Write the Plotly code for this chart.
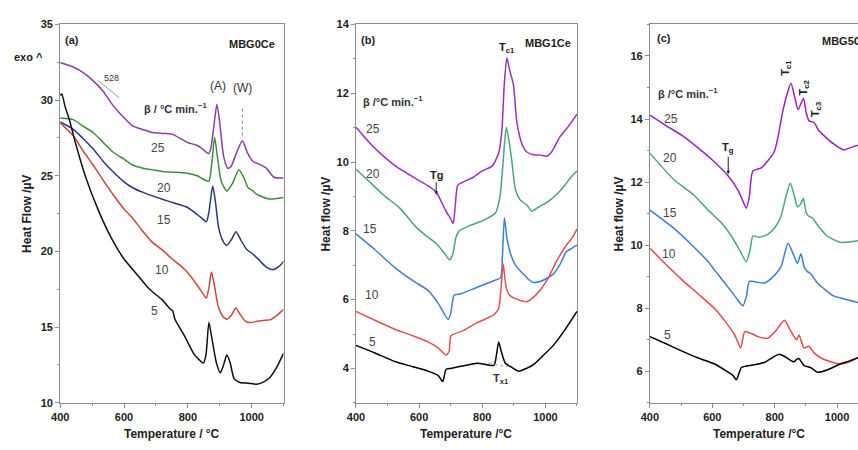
import plotly.graph_objects as go

# ---------------- (a) MBG0Ce ----------------
a25_T = [400, 440, 480, 513, 534, 560, 586, 627, 660, 689, 720, 751, 798, 830, 850, 865, 872, 880, 891, 900, 912, 925, 935, 947, 958, 971, 985, 1005, 1025, 1046, 1070, 1100]
a25_y = [32.47, 32.2, 31.7, 31.07, 30.6, 29.8, 29.14, 28.3, 28.05, 27.86, 27.8, 27.75, 27.21, 27.0, 26.7, 26.46, 26.8, 28.0, 29.72, 28.5, 26.3, 25.5, 25.6, 26.2, 26.8, 27.32, 26.6, 25.93, 25.75, 25.5, 24.9, 24.85]

a20_T = [400, 441, 470, 503, 535, 565, 600, 627, 660, 689, 720, 751, 798, 830, 850, 866, 875, 884, 893, 905, 922, 940, 960, 975, 989, 1004, 1015, 1035, 1056, 1080, 1100]
a20_y = [28.82, 28.71, 28.3, 27.86, 27.2, 26.57, 26.1, 25.71, 25.5, 25.39, 25.28, 25.24, 25.17, 25.0, 24.75, 24.64, 25.8, 27.53, 26.2, 24.6, 24.0, 24.5, 25.39, 24.9, 24.21, 24.0, 23.78, 23.6, 23.46, 23.5, 23.56]

a15_T = [400, 441, 470, 503, 535, 565, 600, 627, 660, 689, 720, 751, 798, 839, 858, 866, 878, 887, 896, 910, 922, 937, 951, 965, 984, 1005, 1025, 1046, 1067, 1085, 1100]
a15_y = [28.55, 28.07, 27.5, 26.78, 25.95, 25.28, 24.6, 24.21, 23.9, 23.67, 23.45, 23.24, 22.92, 22.28, 21.96, 22.6, 24.32, 23.2, 21.63, 20.7, 20.39, 20.8, 21.31, 20.8, 20.14, 19.81, 19.4, 18.96, 18.8, 19.0, 19.34]

a10_T = [400, 441, 470, 503, 535, 565, 600, 627, 660, 689, 720, 751, 775, 798, 825, 850, 858, 866, 874, 882, 895, 910, 922, 937, 950, 965, 980, 994, 1020, 1040, 1060, 1080, 1100]
a10_y = [28.5, 27.64, 26.7, 25.71, 24.7, 23.78, 22.8, 22.2, 21.3, 20.6, 20.1, 19.5, 19.1, 18.64, 17.9, 17.13, 16.9, 17.6, 18.64, 17.9, 16.4, 15.7, 15.52, 15.8, 16.27, 15.8, 15.4, 15.3, 15.4, 15.45, 15.5, 15.8, 16.16]

a5_T = [400, 405, 415, 430, 450, 480, 520, 560, 600, 640, 680, 720, 746, 752, 760, 790, 820, 849, 857, 866, 875, 890, 902, 912, 922, 932, 945, 963, 990, 1015, 1035, 1056, 1077, 1100]
a5_y = [30.3, 30.4, 29.6, 28.6, 27.0, 24.9, 22.7, 20.9, 19.5, 18.5, 17.5, 16.8, 16.17, 16.1, 15.5, 14.4, 13.2, 12.63, 13.2, 15.31, 14.3, 12.6, 11.98, 12.5, 13.16, 12.7, 11.6, 11.34, 11.3, 11.23, 11.35, 11.66, 12.3, 13.27]

# ---------------- (b) MBG1Ce ----------------
b25_T = [400, 445, 487, 530, 591, 630, 654, 685, 700, 708, 715, 722, 737, 770, 800, 831, 852, 862, 870, 878, 886, 899, 909, 925, 940, 962, 985, 1004, 1020, 1046, 1070, 1100]
b25_y = [11.01, 10.54, 10.17, 9.85, 9.51, 9.3, 9.13, 8.57, 8.35, 8.21, 8.8, 9.32, 9.41, 9.55, 9.74, 9.88, 10.26, 10.9, 12.3, 13.03, 12.7, 12.23, 11.2, 10.54, 10.3, 10.21, 10.2, 10.17, 10.3, 10.73, 11.0, 11.39]

b20_T = [400, 440, 487, 539, 591, 630, 654, 680, 696, 706, 717, 727, 760, 800, 842, 852, 858, 866, 876, 885, 894, 905, 920, 941, 957, 980, 1009, 1040, 1061, 1080, 1100]
b20_y = [9.79, 9.45, 9.04, 8.66, 8.1, 7.8, 7.63, 7.35, 7.16, 7.3, 7.82, 8.0, 8.15, 8.29, 8.52, 8.8, 9.13, 10.0, 11.01, 10.6, 10.0, 9.2, 8.9, 8.75, 8.57, 8.7, 8.85, 9.1, 9.32, 9.55, 9.74]

b15_T = [400, 460, 523, 580, 628, 660, 692, 700, 711, 732, 784, 837, 858, 864, 870, 878, 889, 905, 925, 945, 962, 990, 1025, 1045, 1066, 1085, 1100]
b15_y = [7.91, 7.45, 6.93, 6.55, 6.27, 5.9, 5.42, 5.6, 6.13, 6.17, 6.36, 6.55, 6.64, 7.3, 8.38, 7.8, 7.35, 7.0, 6.79, 6.6, 6.5, 6.55, 6.74, 7.0, 7.39, 7.5, 7.58]

b10_T = [400, 460, 523, 580, 628, 660, 685, 695, 701, 740, 784, 837, 852, 860, 866, 872, 878, 890, 905, 941, 960, 983, 1010, 1035, 1066, 1085, 1100]
b10_y = [5.66, 5.4, 5.14, 4.95, 4.77, 4.6, 4.39, 4.5, 4.95, 5.1, 5.33, 5.56, 5.75, 6.4, 7.04, 6.6, 6.27, 6.1, 6.03, 5.94, 6.05, 6.27, 6.65, 7.11, 7.58, 7.8, 8.05]

b5_T = [400, 460, 523, 580, 628, 660, 675, 685, 700, 732, 784, 837, 845, 852, 860, 873, 890, 915, 940, 962, 990, 1025, 1060, 1100]
b5_y = [4.67, 4.45, 4.2, 4.05, 3.92, 3.8, 3.62, 3.97, 4.0, 4.06, 4.15, 4.09, 4.4, 4.77, 4.5, 4.15, 4.05, 3.92, 4.0, 4.11, 4.35, 4.67, 5.1, 5.66]

# ---------------- (c) MBG5Ce ----------------
c25_T = [400, 450, 503, 556, 600, 651, 683, 700, 709, 718, 730, 757, 780, 799, 812, 825, 840, 852, 864, 875, 892, 901, 910, 926, 940, 957, 990, 1021, 1045, 1067]
c25_y = [14.12, 13.8, 13.48, 13.07, 12.7, 12.19, 11.73, 11.35, 11.17, 11.5, 12.35, 12.45, 12.7, 12.97, 13.5, 14.2, 14.8, 15.13, 14.7, 14.3, 14.66, 14.2, 13.94, 13.89, 13.65, 13.48, 13.2, 13.02, 13.1, 13.17]

c20_T = [400, 481, 540, 587, 630, 661, 690, 709, 722, 730, 750, 778, 800, 820, 835, 850, 862, 873, 883, 892, 899, 905, 913, 921, 940, 968, 1010, 1040, 1067]
c20_y = [12.91, 12.04, 11.6, 11.11, 10.7, 10.29, 9.8, 9.47, 9.9, 10.29, 10.25, 10.34, 10.55, 10.91, 11.5, 11.96, 11.6, 11.22, 11.3, 11.48, 11.1, 10.96, 10.9, 10.86, 10.6, 10.29, 10.09, 10.1, 10.14]

c15_T = [400, 481, 540, 587, 608, 640, 672, 690, 698, 710, 719, 767, 800, 820, 843, 860, 873, 884, 895, 905, 915, 937, 960, 989, 1020, 1067]
c15_y = [11.11, 10.5, 9.95, 9.47, 9.2, 8.8, 8.39, 8.15, 8.08, 8.4, 8.85, 8.8, 9.05, 9.31, 10.06, 9.7, 9.42, 9.73, 9.3, 9.16, 9.1, 8.8, 8.6, 8.39, 8.3, 8.18]

c10_T = [400, 450, 503, 555, 608, 640, 672, 691, 704, 725, 746, 778, 805, 831, 850, 862, 870, 878, 894, 910, 925, 947, 980, 1010, 1040, 1067]
c10_y = [9.9, 9.4, 8.9, 8.45, 7.98, 7.6, 7.15, 6.74, 7.26, 7.2, 7.1, 7.05, 7.3, 7.62, 7.3, 7.1, 7.0, 7.15, 6.74, 6.79, 6.6, 6.43, 6.3, 6.23, 6.3, 6.43]

c5_T = [400, 450, 503, 555, 608, 651, 665, 677, 686, 693, 730, 767, 795, 815, 835, 850, 862, 870, 878, 894, 915, 937, 970, 1010, 1040, 1067]
c5_y = [7.1, 6.88, 6.64, 6.42, 6.23, 5.97, 5.88, 5.73, 5.95, 6.12, 6.2, 6.28, 6.45, 6.54, 6.45, 6.35, 6.3, 6.38, 6.4, 6.18, 6.12, 5.97, 6.05, 6.23, 6.33, 6.43]

rates = ["25", "20", "15", "10", "5"]

panels = [
    ("x", "y", [(a25_T, a25_y), (a20_T, a20_y), (a15_T, a15_y), (a10_T, a10_y), (a5_T, a5_y)],
     ["#8b3fa3", "#3f8c3a", "#2c3486", "#c8483e", "#111111"]),
    ("x2", "y2", [(b25_T, b25_y), (b20_T, b20_y), (b15_T, b15_y), (b10_T, b10_y), (b5_T, b5_y)],
     ["#9b2fc2", "#45a874", "#3a7fd5", "#e05252", "#000000"]),
    ("x3", "y3", [(c25_T, c25_y), (c20_T, c20_y), (c15_T, c15_y), (c10_T, c10_y), (c5_T, c5_y)],
     ["#9a22c0", "#48a87a", "#3a7fd0", "#e04a4a", "#000000"]),
]

fig = go.Figure()
for xa, ya, series, colors in panels:
    for (T, y), col, r in zip(series, colors, rates):
        fig.add_trace(go.Scatter(
            x=T, y=y, xaxis=xa, yaxis=ya, mode="lines", name=r,
            line=dict(color=col, width=1.5, shape="spline", smoothing=0.6),
            showlegend=False, hoverinfo="skip"))

FONT = "Liberation Sans, Arial, sans-serif"
tickfont = dict(family=FONT, size=11, color="#222222")
axis_common = dict(
    showline=True, linecolor="#8c8c8c", linewidth=1, ticks="outside", ticklen=4,
    tickcolor="#8c8c8c", showgrid=False, zeroline=False, tickfont=tickfont,
    tickprefix="<b>", ticksuffix="</b>",
)

y_dom = [0.094, 0.958]
fig.update_layout(
    width=858, height=450, margin=dict(l=0, r=0, t=0, b=0),
    paper_bgcolor="white", plot_bgcolor="white",
    xaxis=dict(domain=[0.0603, 0.3234], range=[400, 1100], dtick=200, tick0=400,
               minor=dict(dtick=100, ticks="outside", ticklen=2, tickcolor="#8c8c8c"),
               mirror=True, anchor="y", **axis_common),
    yaxis=dict(domain=y_dom, range=[10, 35], dtick=5, tick0=10,
               minor=dict(dtick=2.5, ticks="outside", ticklen=2, tickcolor="#8c8c8c"),
               mirror=True, anchor="x", **axis_common),
    xaxis2=dict(domain=[0.4087, 0.669], range=[400, 1100], dtick=200, tick0=400,
                minor=dict(dtick=100, ticks="outside", ticklen=2, tickcolor="#8c8c8c"),
                mirror=True, anchor="y2", **axis_common),
    yaxis2=dict(domain=y_dom, range=[3, 14], dtick=2, tick0=4,
                minor=dict(dtick=1, ticks="outside", ticklen=2, tickcolor="#8c8c8c"),
                mirror=True, anchor="x2", **axis_common),
    xaxis3=dict(domain=[0.7549, 1.0], range=[400, 1067], dtick=200, tick0=400,
                minor=dict(dtick=100, ticks="outside", ticklen=2, tickcolor="#8c8c8c"),
                mirror=True, anchor="y3", **axis_common),
    yaxis3=dict(domain=y_dom, range=[5, 17], dtick=2, tick0=6,
                minor=dict(dtick=1, ticks="outside", ticklen=2, tickcolor="#8c8c8c"),
                mirror=False, anchor="x3", **axis_common),
)

ann = []


def txt(x, y, s, xref, yref, size=11, bold=False, color="#222222", xanchor="center", angle=0):
    ann.append(dict(x=x, y=y, xref=xref, yref=yref, text=(f"<b>{s}</b>" if bold else s),
                    showarrow=False, xanchor=xanchor, yanchor="middle", textangle=angle,
                    font=dict(family=FONT, size=size, color=color)))


# axis titles
txt(0.021, 0.525, "Heat Flow /µV", "paper", "paper", 12, True, angle=-90)
txt(0.374, 0.525, "Heat flow /µV", "paper", "paper", 12, True, angle=-90)
txt(0.719, 0.525, "Heat flow /µV", "paper", "paper", 12, True, angle=-90)
txt(0.1918, 0.022, "Temperature / °C", "paper", "paper", 12, True)
txt(0.5385, 0.022, "Temperature /°C", "paper", "paper", 12, True)
txt(0.8835, 0.022, "Temperature /°C", "paper", "paper", 12, True)
txt(0.0235, 0.883, "exo ^", "paper", "paper", 11, True)

# panel (a)
txt(438, 33.97, "(a)", "x", "y", 11, True)
txt(1080, 33.7, "MBG0Ce", "x", "y", 11, True, xanchor="right")
txt(893, 30.9, "(A)", "x", "y", 12, color="#333333")
txt(970, 30.8, "(W)", "x", "y", 12, color="#333333")
txt(761, 29.47, "β / °C min.<sup>−1</sup>", "x", "y", 11, True, color="#333333")
txt(562, 31.45, "528", "x", "y", 9, color="#333333")
for r, (t, v) in zip(rates, [(708, 26.85), (725, 24.2), (725, 22.07), (718, 18.78), (694, 16.06)]):
    txt(t, v, r, "x", "y", 12, color="#444444")

# panel (b)
txt(439, 13.55, "(b)", "x2", "y2", 11, True)
txt(1087, 13.45, "MBG1Ce", "x2", "y2", 11, True, xanchor="right")
txt(417, 11.76, "β /°C min.<sup>−1</sup>", "x2", "y2", 11, True, color="#333333", xanchor="left")
txt(878, 13.3, "T<sub>c1</sub>", "x2", "y2", 11, True)
txt(860, 3.68, "T<sub>x1</sub>", "x2", "y2", 11, True, color="#333333")
for r, (t, v) in zip(rates, [(455, 10.96), (455, 9.65), (445, 8.05), (450, 6.13), (453, 4.77)]):
    txt(t, v, r, "x2", "y2", 12, color="#444444")
ann.append(dict(x=654, y=9.05, xref="x2", yref="y2", text="<b>Tg</b>", showarrow=True,
                ax=0, ay=-20, arrowhead=2, arrowsize=0.7, arrowwidth=1, arrowcolor="#222222",
                font=dict(family=FONT, size=11, color="#222222")))

# panel (c)
txt(444, 16.57, "(c)", "x3", "y3", 11, True)
txt(944, 16.46, "MBG5Ce", "x3", "y3", 11, True, xanchor="left")
txt(418, 14.84, "β /°C min.<sup>−1</sup>", "x3", "y3", 11, True, color="#333333", xanchor="left")
txt(836, 15.62, "T<sub>c1</sub>", "x3", "y3", 11, True, angle=-90)
txt(894, 14.97, "T<sub>c2</sub>", "x3", "y3", 11, True, angle=-90)
txt(931, 14.3, "T<sub>c3</sub>", "x3", "y3", 11, True, angle=-90)
for r, (t, v) in zip(rates, [(469, 13.99), (465, 12.76), (465, 11.01), (460, 9.73), (457, 7.15)]):
    txt(t, v, r, "x3", "y3", 12, color="#444444")
ann.append(dict(x=651, y=12.25, xref="x3", yref="y3", text="<b>T<sub>g</sub></b>", showarrow=True,
                ax=0, ay=-26, arrowhead=2, arrowsize=0.7, arrowwidth=1, arrowcolor="#222222",
                font=dict(family=FONT, size=11, color="#222222")))

fig.update_layout(annotations=ann)

# guide marks: tangent at 528, dotted line at (W), baseline around Tx1
fig.add_shape(type="line", xref="x", yref="y", x0=519, y0=31.29, x1=585, y1=30.15,
              line=dict(color="#999999", width=1))
fig.add_shape(type="line", xref="x", yref="y", x0=971, y0=27.65, x1=971, y1=29.6,
              line=dict(color="#888888", width=1, dash="dot"))
fig.add_shape(type="line", xref="x2", yref="y2", x0=820, y0=4.15, x1=880, y1=4.05,
              line=dict(color="#999999", width=1, dash="dot"))

fig.write_html("out.html")
